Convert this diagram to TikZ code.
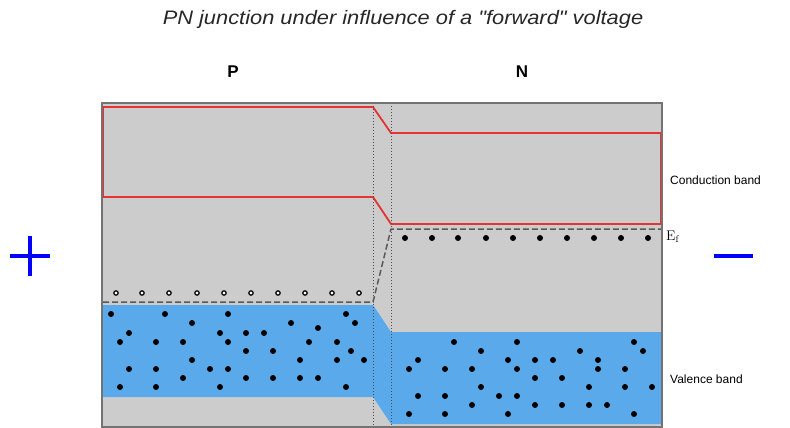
\documentclass[tikz,border=0pt]{standalone}
\usepackage{fontspec}
\setsansfont{Liberation Sans}
\newfontfamily\titlefont{Liberation Sans}
\definecolor{bandgray}{RGB}{204,204,204}
\definecolor{valblue}{RGB}{90,170,235}
\definecolor{condred}{RGB}{230,50,50}
\begin{document}
\begin{tikzpicture}[x=1pt,y=-1pt,
  electron/.style={fill=black},
  hole/.style={draw=black,fill=white,line width=1.2pt},
  lbl/.style={font=\sffamily\fontsize{12}{14}\selectfont,anchor=west,inner sep=0pt}]
  \useasboundingbox (0,0) rectangle (790,428);
  % crystal body
  \fill[bandgray] (102,103) rectangle (662,427);
  % valence band
  \fill[valblue] (103,305) -- (373,305) -- (391,332) -- (661,332) -- (661,424)
    -- (391,424) -- (373,397) -- (103,397) -- cycle;
  % conduction band
  \draw[condred,line width=1.8pt] (103,107) -- (373,107) -- (391,133) -- (661,133)
    -- (661,224) -- (391,224) -- (373,197) -- (103,197) -- cycle;
  % junction boundaries
  \draw[black!70,dotted,line width=1pt] (373,103) -- (373,427);
  \draw[black!70,dotted,line width=1pt] (391,103) -- (391,427);
  % fermi level
  \draw[black!65,line width=1.5pt,dash pattern=on 6pt off 3pt]
    (103,302) -- (373,302) -- (391,229) -- (662,229);
  % holes
  \foreach \x in {116,142,169,197,224,251,278,305,332,359}
    \draw[hole] (\x,293) circle (2.2);
  % free electrons
  \foreach \x in {405,432,458,486,513,540,567,594,621,648}
    \fill[electron] (\x,238) circle (3);
  % valence electrons, P side
  \foreach \x/\y in {111/314,165/314,228/314,346/314,192/323,291/323,355/323,
    129/333,220/333,246/333,264/333,318/328,120/342,156/342,183/342,228/342,
    309/342,337/342,246/351,273/351,351/351,192/360,300/360,337/360,364/360,
    129/369,156/369,210/369,228/369,183/378,246/378,273/378,300/378,318/378,
    120/387,156/387,220/387,346/387}
    \fill[electron] (\x,\y) circle (3);
  % valence electrons, N side
  \foreach \x/\y in {454/342,517/342,634/342,481/351,580/351,643/351,418/360,
    508/360,535/360,553/360,598/360,409/369,445/369,472/369,517/369,598/369,
    625/369,535/378,562/378,481/387,589/387,625/387,652/387,418/396,445/396,
    499/396,517/396,472/405,535/405,562/405,589/405,607/405,409/414,445/414,
    508/414,634/414}
    \fill[electron] (\x,\y) circle (3);
  % outline
  \draw[black!55,line width=2.2pt] (102,103) rectangle (662,427);
  % labels
  \node[xscale=1.12,text=black!85] (title) at (403,19) {\titlefont\itshape\fontsize{19.5}{24}\selectfont PN junction under influence of a "forward" voltage};
  \node (P) at (233,72) {\sffamily\bfseries\fontsize{17}{20}\selectfont P};
  \node (N) at (522,72) {\sffamily\bfseries\fontsize{17}{20}\selectfont N};
  \node[lbl] (cb) at (670,180) {Conduction band};
  \node[lbl] (vb) at (670,379) {Valence band};
  \node[anchor=west,inner sep=0pt] (ef) at (666,237) {\fontsize{14}{16}\selectfont E$_{\mathrm{f}}$};
  \draw[blue,line width=3.5pt] (10,256) -- (50,256) (30,236) -- (30,276);
  \draw[blue,line width=3.5pt] (714,256) -- (753,256);
\end{tikzpicture}
\end{document}
